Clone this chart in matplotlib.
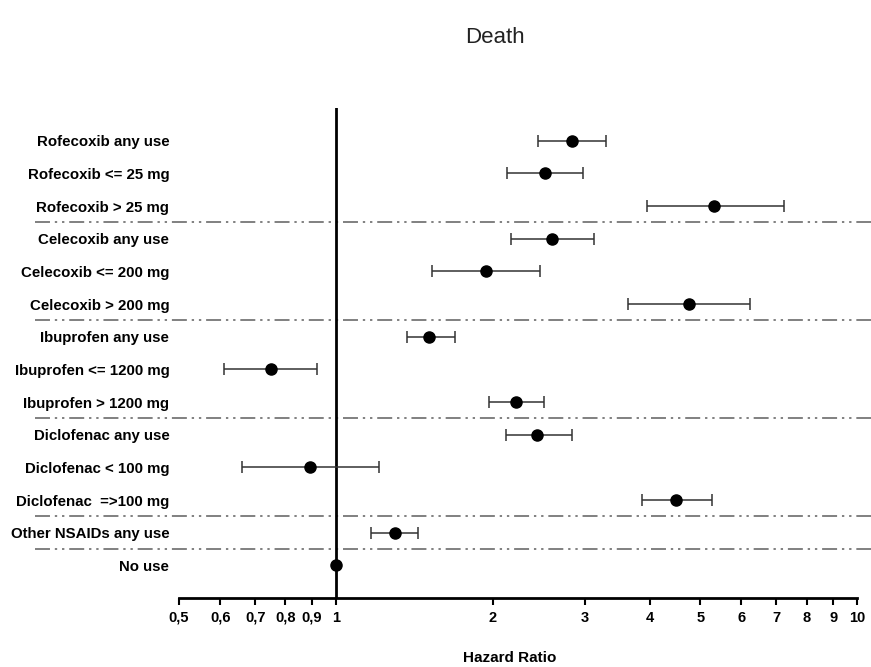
import matplotlib.pyplot as plt
from matplotlib.transforms import blended_transform_factory

plt.rcParams['font.family'] = ['Liberation Sans', 'DejaVu Sans']

# 数据：风险比及置信区间
labels = ["Rofecoxib any use", "Rofecoxib <= 25 mg", "Rofecoxib > 25 mg",
          "Celecoxib any use", "Celecoxib <= 200 mg", "Celecoxib > 200 mg",
          "Ibuprofen any use", "Ibuprofen <= 1200 mg", "Ibuprofen > 1200 mg",
          "Diclofenac any use", "Diclofenac < 100 mg", "Diclofenac  =>100 mg",
          "Other NSAIDs any use", "No use"]
hr = [2.84, 2.52, 5.32, 2.60, 1.94, 4.76, 1.51, 0.75, 2.22, 2.43, 0.89, 4.50, 1.30, 1.0]
ci_low = [2.44, 2.13, 3.95, 2.17, 1.53, 3.63, 1.37, 0.61, 1.97, 2.12, 0.66, 3.86, 1.17, 1.0]
ci_high = [3.30, 2.98, 7.23, 3.13, 2.46, 6.24, 1.69, 0.92, 2.51, 2.84, 1.21, 5.27, 1.44, 1.0]
separators = [2.5, 5.5, 8.5, 11.5, 12.5]
xticks = [0.5, 0.6, 0.7, 0.8, 0.9, 1, 2, 3, 4, 5, 6, 7, 8, 9, 10]
xticklabels = ["0,5", "0,6", "0,7", "0,8", "0,9", "1", "2", "3", "4", "5", "6", "7", "8", "9", "10"]

fig = plt.figure(figsize=(8.71, 6.67), dpi=100)
ax = fig.add_axes([0.2055, 0.1034, 0.7785, 0.7346])

y = list(range(len(labels)))

# 分隔线（点划线，延伸到标签区域）
trans = blended_transform_factory(fig.transFigure, ax.transData)
for s in separators:
    ax.plot([0.04, 1.0], [s, s], transform=trans, color='#808080', lw=1.4,
            dashes=[7.7, 2.5, 1.2, 2.5, 1.2, 2.5], clip_on=False, zorder=1)

ax.axvline(1, color='black', lw=2, zorder=2)

err_lo = [h - l for h, l in zip(hr, ci_low)]
err_hi = [u - h for h, u in zip(hr, ci_high)]
ax.errorbar(hr[:-1], y[:-1], xerr=[err_lo[:-1], err_hi[:-1]], fmt='none',
            ecolor='#333333', elinewidth=1.1, capsize=4.5, capthick=1.1, zorder=3)
ax.plot(hr, y, 'o', color='black', markersize=8, zorder=4)

ax.set_xscale('log')
ax.set_xlim(0.5, 10)
ax.set_ylim(14.0, -1.0)
ax.set_xticks(xticks)
ax.set_xticklabels(xticklabels, fontsize=10.5, fontweight='bold')
ax.minorticks_off()
ax.set_xticks([], minor=True)
ax.tick_params(axis='x', direction='out', length=5, width=1.5, pad=4)

ax.set_yticks(y)
ax.set_yticklabels(labels, fontsize=10.8, fontweight='bold')
ax.tick_params(axis='y', length=0, pad=7)

for side in ['top', 'right', 'left']:
    ax.spines[side].set_visible(False)
ax.spines['bottom'].set_linewidth(2)

fig.text(0.568, 0.944, "Death", fontsize=16, ha='center', va='center', color='#222222')
fig.text(0.585, 0.003, "Hazard Ratio", fontsize=11, fontweight='bold', ha='center', va='bottom')

plt.savefig('out.png', dpi=100)
